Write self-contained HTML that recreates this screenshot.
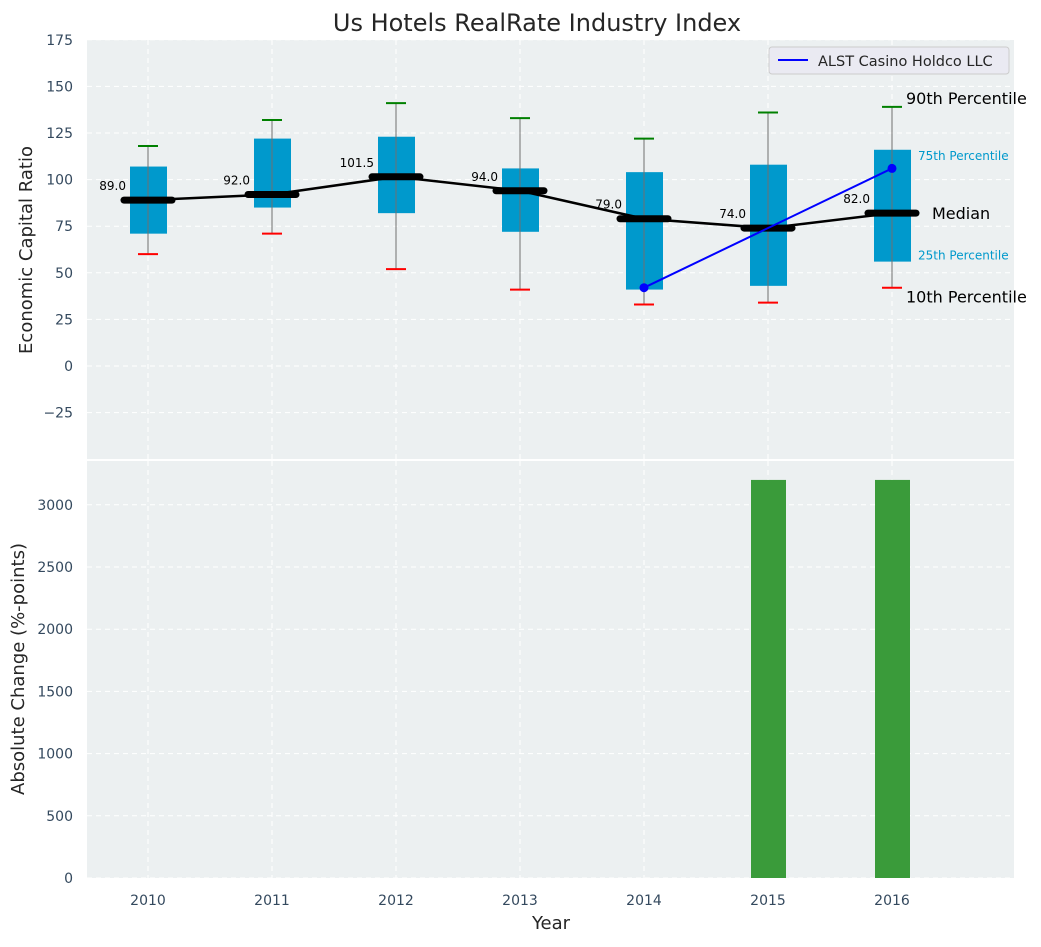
<!DOCTYPE html>
<html><head><meta charset="utf-8"><style>
body{margin:0;background:#fff;}
svg text{font-family:"DejaVu Sans","Liberation Sans",sans-serif;}
</style></head><body>
<svg id="chart" width="1041" height="942" xmlns="http://www.w3.org/2000/svg">
<text x="537" y="31" text-anchor="middle" font-size="24" fill="#262626">Us Hotels RealRate Industry Index</text>
<rect x="87" y="40" width="927" height="419" fill="#ecf0f1"/>
<rect x="87" y="461" width="927" height="417" fill="#ecf0f1"/>
<g id="g"></g>
<text x="32" y="250" transform="rotate(-90 32 250)" text-anchor="middle" font-size="18" fill="#262626">Economic Capital Ratio</text>
<text x="24" y="669" transform="rotate(-90 24 669)" text-anchor="middle" font-size="18" fill="#262626">Absolute Change (%-points)</text>
<text x="551" y="929" text-anchor="middle" font-size="18" fill="#262626">Year</text>
<g>
<rect x="769" y="47" width="240" height="27" rx="3" fill="#eaeaf2" stroke="#ccc"/>
<line x1="778" y1="60" x2="808" y2="60" stroke="#0000ff" stroke-width="2"/>
<text x="818" y="66" font-size="14.5" fill="#262626">ALST Casino Holdco LLC</text>
</g>
</svg>
<script>
const years=[2010,2011,2012,2013,2014,2015,2016];
const p10=[60,71,52,41,33,34,42];
const q1=[71,85,82,72,41,43,56];
const med=[89,92,101.5,94,79,74,82];
const q3=[107,122,123,106,104,108,116];
const p90=[118,132,141,133,122,136,139];
const alstYears=[2014,2016];
const alstVals=[42,106];
const barYears=[2015,2016];
const barVals=[3200,3200];
const topTicks=[-25,0,25,50,75,100,125,150,175];
const botTicks=[0,500,1000,1500,2000,2500,3000];

const X=y=>148+(y-2010)*124;
const Y1=v=>366-v*46.6/25;
const Y2=v=>878-v*62.2/500;
const g=document.getElementById('g');
const NS='http://www.w3.org/2000/svg';
function el(t,a,txt){const e=document.createElementNS(NS,t);for(const k in a)e.setAttribute(k,a[k]);if(txt!==undefined)e.textContent=txt;g.appendChild(e);return e;}
topTicks.forEach(t=>{const e=el('line',{x1:87,x2:1014,y1:Y1(t),y2:Y1(t),stroke:'#fff','stroke-dasharray':'5,4'});
const l=el('text',{x:73,y:Y1(t)+5,'text-anchor':'end','font-size':14,fill:'#34495e'},t<0?'\u2212'+(-t):t);});
botTicks.forEach(t=>{const e=el('line',{x1:87,x2:1014,y1:Y2(t),y2:Y2(t),stroke:'#fff','stroke-dasharray':'5,4'});
const l=el('text',{x:73,y:Y2(t)+5,'text-anchor':'end','font-size':14,fill:'#34495e'},t);});
years.forEach(y=>{[[40,459],[461,878]].forEach(r=>{const e=el('line',{x1:X(y),x2:X(y),y1:r[0],y2:r[1],stroke:'#fff','stroke-dasharray':'5,4'});});
const l=el('text',{x:X(y),y:905,'text-anchor':'middle','font-size':14,fill:'#34495e'},y);});
years.forEach((y,i)=>{const x=X(y);
const b=el('rect',{x:x-18,y:Y1(q3[i]),width:37,height:Y1(q1[i])-Y1(q3[i]),fill:'#0099cc'});
const w=el('line',{x1:x,x2:x,y1:Y1(p90[i]),y2:Y1(p10[i]),stroke:'#707070','stroke-width':1});
const c1=el('line',{x1:x-10,x2:x+10,y1:Y1(p90[i]),y2:Y1(p90[i]),stroke:'green','stroke-width':2});
const c2=el('line',{x1:x-10,x2:x+10,y1:Y1(p10[i]),y2:Y1(p10[i]),stroke:'red','stroke-width':2});
});
const mp=el('polyline',{points:years.map((y,i)=>X(y)+','+Y1(med[i])).join(' '),fill:'none',stroke:'#000','stroke-width':2.5});
years.forEach((y,i)=>{const x=X(y);
const m=el('line',{x1:x-24,x2:x+24,y1:Y1(med[i]),y2:Y1(med[i]),stroke:'#000','stroke-width':7,'stroke-linecap':'round'});
const t=el('text',{x:x-22,y:Y1(med[i])-10,'text-anchor':'end','font-size':12,fill:'#000'},med[i].toFixed(1));});
const ap=el('polyline',{points:alstYears.map((y,i)=>X(y)+','+Y1(alstVals[i])).join(' '),fill:'none',stroke:'#0000ff','stroke-width':2});
alstYears.forEach((y,i)=>{const c=el('circle',{cx:X(y),cy:Y1(alstVals[i]),r:4.5,fill:'#0000ff'});});
const li=years.length-1,lx=X(years[li]);
[[p90[li],'90th Percentile',16,'#000',14,-3],[q3[li],'75th Percentile',12,'#0099cc',26,10],[med[li],'Median',16,'#000',40,6],[q1[li],'25th Percentile',12,'#0099cc',26,-2],[p10[li],'10th Percentile',16,'#000',14,15]].forEach(a=>{
const t=el('text',{x:lx+a[4],y:Y1(a[0])+a[5],'font-size':a[2],fill:a[3]},a[1]);});
barYears.forEach((y,i)=>{const b=el('rect',{x:X(y)-17,y:Y2(barVals[i]),width:35,height:Y2(0)-Y2(barVals[i]),fill:'#3a9b3a'});});
</script>
</body></html>
